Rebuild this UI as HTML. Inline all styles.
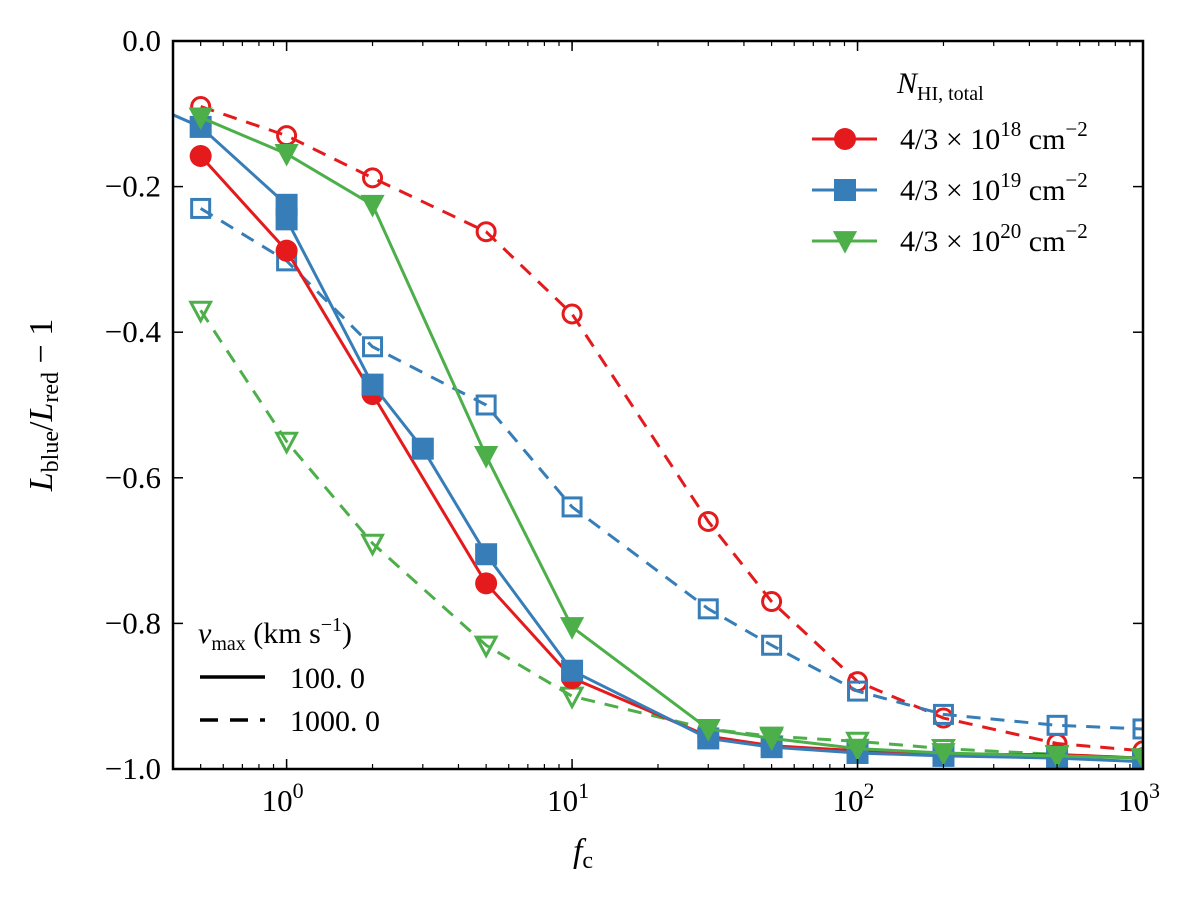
<!DOCTYPE html>
<html><head><meta charset="utf-8"><style>
body{margin:0;background:#fff}
svg text{font-family:"Liberation Serif",serif;fill:#000}
</style></head><body>
<svg id="c" width="1200" height="898" xmlns="http://www.w3.org/2000/svg"></svg>
<script>
const xs=[0.5,1,2,5,10,30,50,100,200,500,1000];
const redSolid=[-0.158,-0.288,-0.485,-0.745,-0.875,-0.955,-0.968,-0.975,-0.98,-0.98,-0.985];
const greenSolid=[-0.105,-0.155,-0.225,-0.57,-0.805,-0.945,-0.958,-0.972,-0.978,-0.982,-0.985];
const blueSolidX=[0.3,0.5,1,1,2,3,5,10,30,50,100,200,500,1000];
const blueSolid=[-0.08,-0.118,-0.225,-0.245,-0.472,-0.56,-0.705,-0.865,-0.958,-0.97,-0.978,-0.982,-0.985,-0.99];
const redDash=[-0.09,-0.13,-0.188,-0.262,-0.375,-0.66,-0.77,-0.88,-0.93,-0.965,-0.975];
const blueDash=[-0.23,-0.302,-0.42,-0.5,-0.64,-0.78,-0.83,-0.893,-0.925,-0.94,-0.945];
const greenDash=[-0.37,-0.55,-0.69,-0.83,-0.9,-0.945,-0.955,-0.962,-0.972,-0.98,-0.985];
const yTicks=[0,-0.2,-0.4,-0.6,-0.8,-1.0];
const yTickLabels=["0.0","\u22120.2","\u22120.4","\u22120.6","\u22120.8","\u22121.0"];
const xDecades=[0,1,2,3];

const L=173,R=1143,T=41,B=769;
const x0=Math.log10(0.4),x1=3;
const X=v=>L+(Math.log10(v)-x0)/(x1-x0)*(R-L);
const Y=v=>T+(0-v)/1*(B-T);
const svg=document.getElementById('c');const NS='http://www.w3.org/2000/svg';
function el(t,a,p){const e=document.createElementNS(NS,t);for(const k in a)e.setAttribute(k,a[k]);(p||svg).appendChild(e);return e;}
const RED='#e41a1c',BLUE='#377eb8',GREEN='#4daf4a';
const clip=el('clipPath',{id:'cp'});el('rect',{x:L,y:T,width:R-L,height:B-T},clip);
const plot=el('g',{'clip-path':'url(#cp)'});


function marker(g,type,cx,cy,col,filled,s){
  const f=filled?col:'none',sw=filled?0:3;let m;
  if(type==='o')m=el('circle',{cx,cy,r:s,fill:f,stroke:col,'stroke-width':sw},g);
  else if(type==='s')m=el('rect',{x:cx-s,y:cy-s,width:2*s,height:2*s,fill:f,stroke:col,'stroke-width':sw},g);
  else m=el('polygon',{points:`${cx-s*1.1},${cy-s*0.9} ${cx+s*1.1},${cy-s*0.9} ${cx},${cy+s*1.15}`,fill:f,stroke:col,'stroke-width':sw},g);
  
  
}
function series(name,xv,yv,col,dash,type,filled){
  const g=el('g',{},plot);
  
  
  const pts=xv.map((v,i)=>X(v)+','+Y(yv[i])).join(' ');
  const a={points:pts,fill:'none',stroke:col,'stroke-width':3};
  if(dash)a['stroke-dasharray']='14,10';
  el('polyline',a,g);
  xv.forEach((v,i)=>marker(g,type,X(v),Y(yv[i]),col,filled,filled?11:9));
}
series('red-dashed-series',xs,redDash,RED,true,'o',false);
series('blue-dashed-series',xs,blueDash,BLUE,true,'s',false);
series('green-dashed-series',xs,greenDash,GREEN,true,'v',false);
series('red-solid-series',xs,redSolid,RED,false,'o',true);
series('blue-solid-series',blueSolidX,blueSolid,BLUE,false,'s',true);
series('green-solid-series',xs,greenSolid,GREEN,false,'v',true);

const fr=el('rect',{x:L,y:T,width:R-L,height:B-T,fill:'none',stroke:'#000','stroke-width':2.5});


yTicks.forEach((v,i)=>{
  const y=Y(v);
  el('line',{x1:L,x2:L+10,y1:y,y2:y,stroke:'#000','stroke-width':1.5});
  el('line',{x1:R-10,x2:R,y1:y,y2:y,stroke:'#000','stroke-width':1.5});
  const t=el('text',{x:L-12,y:y+10,'text-anchor':'end','font-size':31});t.textContent=yTickLabels[i];
  
  
});
for(let d=-1;d<=2;d++)for(let k=1;k<=9;k++){
  const v=k*Math.pow(10,d);if(v<0.4||v>1000)continue;
  const x=X(v);
  el('line',{x1:x,x2:x,y1:B,y2:B-5,stroke:'#000','stroke-width':1.2});
  el('line',{x1:x,x2:x,y1:T,y2:T+5,stroke:'#000','stroke-width':1.2});
}
xDecades.forEach(d=>{
  const x=X(Math.pow(10,d));
  el('line',{x1:x,x2:x,y1:B,y2:B-10,stroke:'#000','stroke-width':1.5});
  el('line',{x1:x,x2:x,y1:T,y2:T+10,stroke:'#000','stroke-width':1.5});
  const t=el('text',{x:x-4,y:B+42,'text-anchor':'middle','font-size':31});
  
  
  t.innerHTML='10<tspan dy="-13" font-size="22">'+d+'</tspan>';
});
const xt=el('text',{x:583,y:862,'font-size':34,'font-style':'italic','text-anchor':'middle'});


xt.innerHTML='f<tspan dy="6" font-size="24" font-style="normal">c</tspan>';
const yt=el('text',{transform:'translate(52,405) rotate(-90)','font-size':34,'text-anchor':'middle'});


yt.innerHTML='<tspan font-style="italic">L</tspan><tspan dy="6" font-size="24">blue</tspan><tspan dy="-6">/</tspan><tspan font-style="italic">L</tspan><tspan dy="6" font-size="24">red</tspan><tspan dy="-6"> \u2212 1</tspan>';
const lg=el('g',{});


const lt=el('text',{x:897,y:93,'font-size':30},lg);
lt.innerHTML='<tspan font-style="italic">N</tspan><tspan dy="7" font-size="20">HI, total</tspan>';
[[RED,'o','18',139],[BLUE,'s','19',190],[GREEN,'v','20',241]].forEach(([c,t,e,y])=>{
  const g=el('g',{},lg);
  
  
  el('line',{x1:812,x2:877,y1:y,y2:y,stroke:c,'stroke-width':3},g);
  marker(g,t,845,y,c,true,11);
  const tx=el('text',{x:900,y:y+10,'font-size':30},g);
  tx.innerHTML='4/3 \u00d7 10<tspan dy="-13" font-size="21">'+e+'</tspan><tspan dy="13"> cm</tspan><tspan dy="-13" font-size="21">\u22122</tspan>';
});
const lg2=el('g',{});


const l2t=el('text',{x:198,y:643,'font-size':30},lg2);
l2t.innerHTML='<tspan font-style="italic">v</tspan><tspan dy="7" font-size="20">max</tspan><tspan dy="-7"> (km s</tspan><tspan dy="-12" font-size="20">\u22121</tspan><tspan dy="12">)</tspan>';
el('line',{x1:200,x2:265,y1:677,y2:677,stroke:'#000','stroke-width':3.5},lg2);
el('line',{x1:200,x2:265,y1:720,y2:720,stroke:'#000','stroke-width':3.5,'stroke-dasharray':'18,12'},lg2);
el('text',{x:290,y:688,'font-size':30},lg2).textContent='100. 0';
el('text',{x:290,y:731,'font-size':30},lg2).textContent='1000. 0';
</script>
</body></html>
